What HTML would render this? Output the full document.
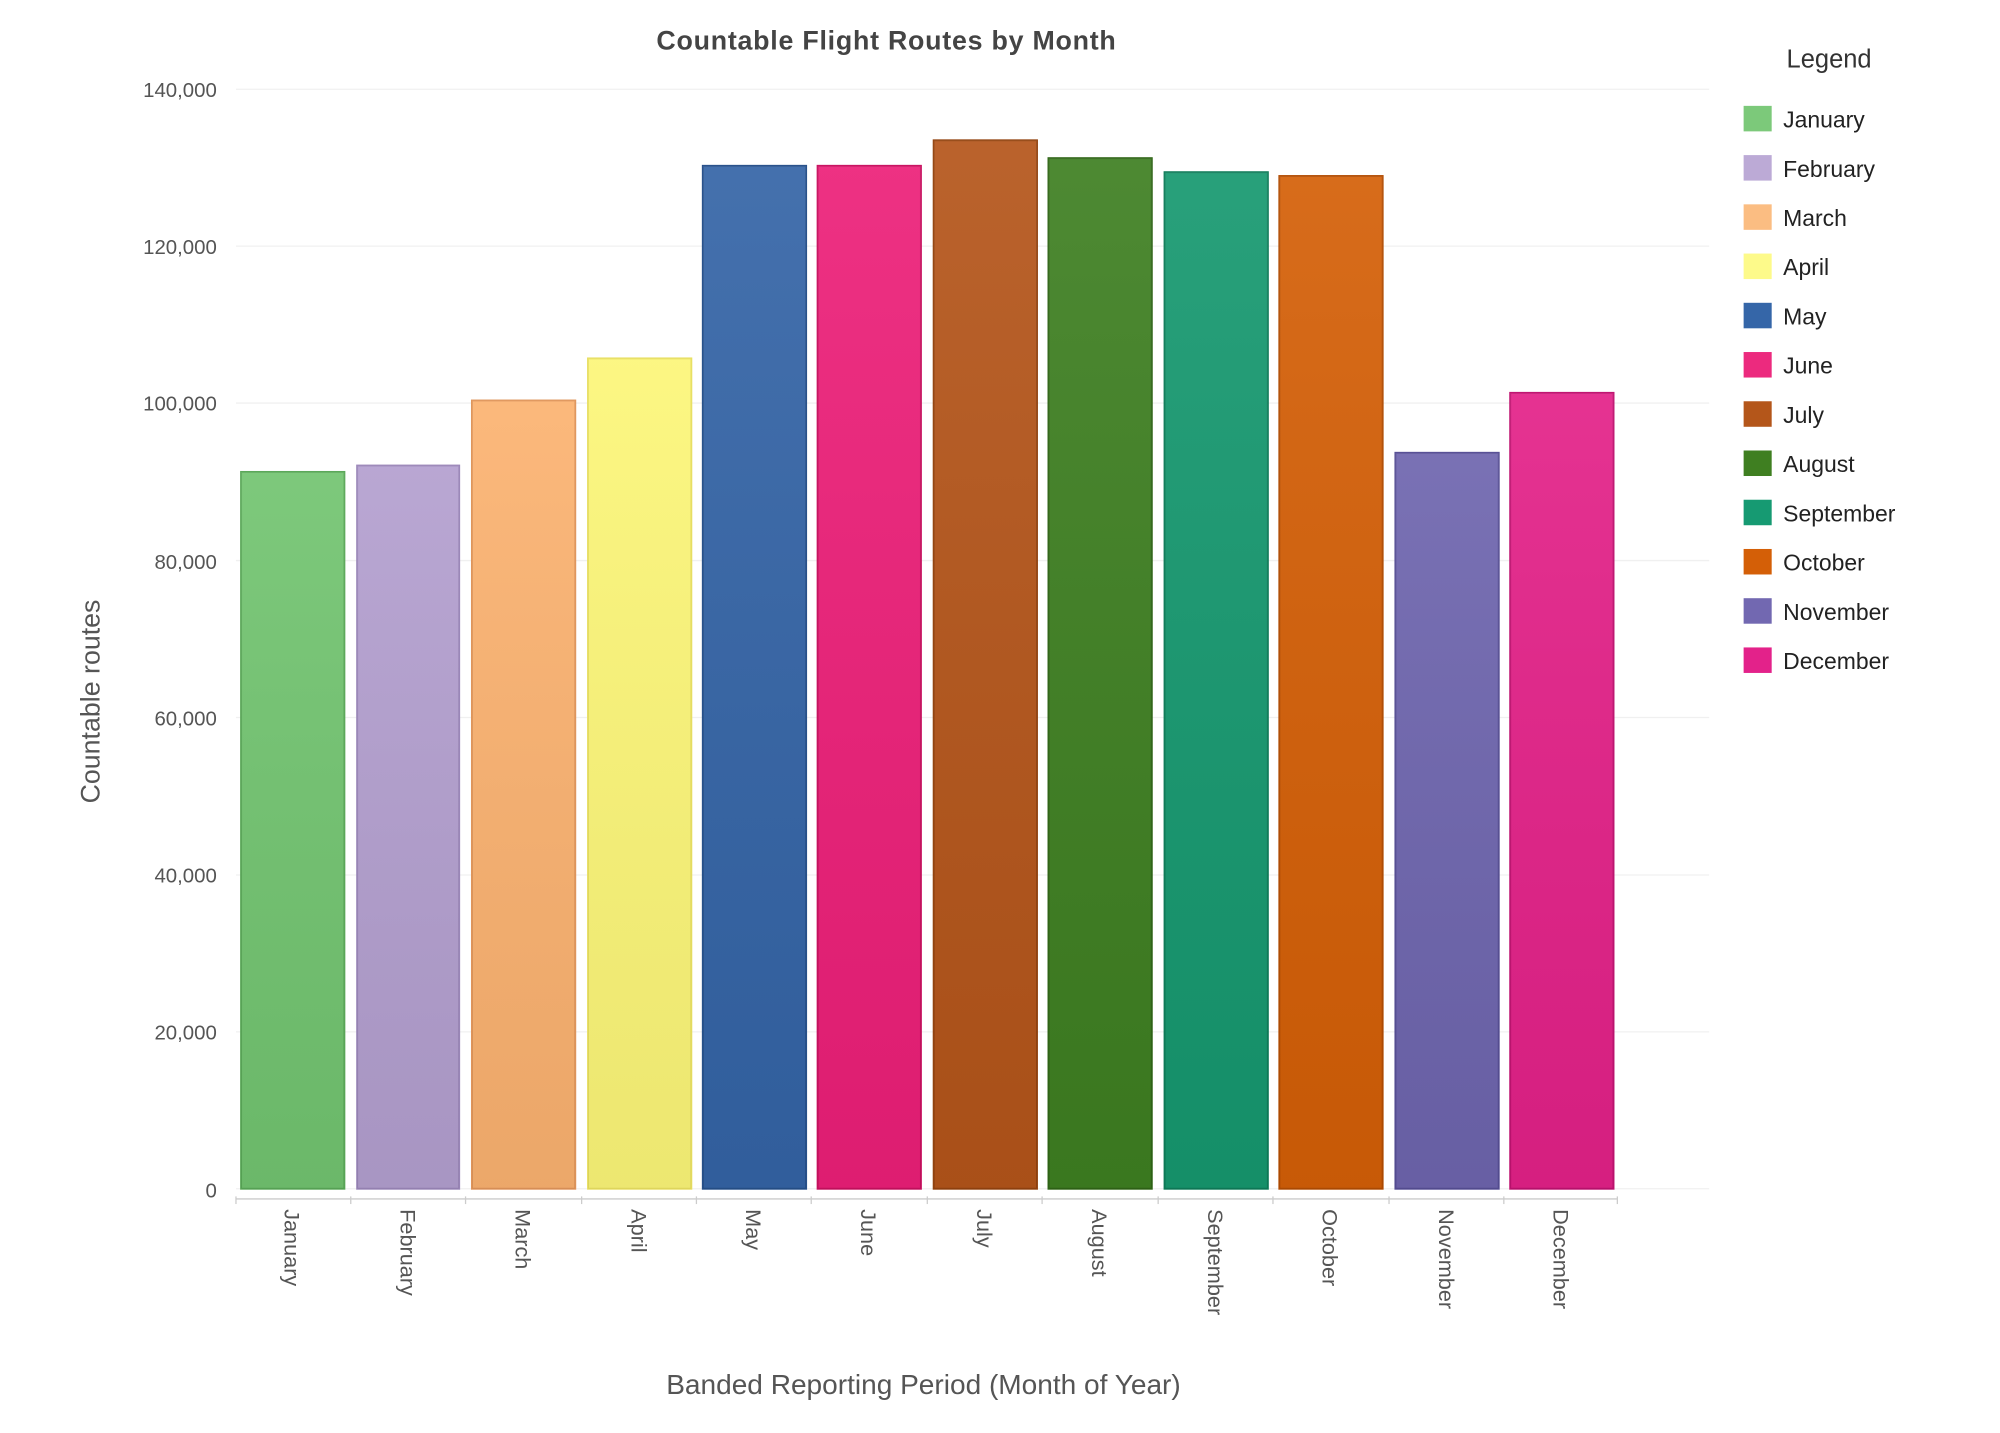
<!DOCTYPE html>
<html><head><meta charset="utf-8"><style>
html,body{margin:0;padding:0;background:#fff;}
svg{display:block;}
text{font-family:"Liberation Sans","DejaVu Sans",sans-serif;}
</style></head><body>
<svg width="2000" height="1433" viewBox="0 0 1568 1123.5" preserveAspectRatio="none" xmlns="http://www.w3.org/2000/svg">
<defs>
<linearGradient id="g" x1="0" y1="0" x2="0" y2="1"><stop offset="0" stop-color="#fff" stop-opacity="0.08"/><stop offset="1" stop-color="#000" stop-opacity="0.06"/></linearGradient>
</defs>
<text x="695" y="39" text-anchor="middle" font-size="21" font-weight="bold" fill="#444" letter-spacing="0.6">Countable Flight Routes by Month</text>
<g stroke="#f0f0f0" stroke-width="1">
<line x1="185" x2="1340" y1="70" y2="70"/><line x1="185" x2="1340" y1="193" y2="193"/><line x1="185" x2="1340" y1="316" y2="316"/><line x1="185" x2="1340" y1="439.5" y2="439.5"/><line x1="185" x2="1340" y1="562.5" y2="562.5"/><line x1="185" x2="1340" y1="686" y2="686"/><line x1="185" x2="1340" y1="809" y2="809"/><line x1="185" x2="1340" y1="932" y2="932"/>
</g>
<g font-size="16" fill="#555" text-anchor="end">
<text x="170" y="76">140,000</text><text x="170" y="199">120,000</text><text x="170" y="322">100,000</text><text x="170" y="446">80,000</text><text x="170" y="569">60,000</text><text x="170" y="692">40,000</text><text x="170" y="815">20,000</text><text x="170" y="939">0</text>
</g>
<g stroke-width="1.5">
<rect x="189" y="370" width="81" height="562" fill="#72c470" stroke="#5aa858"/>
<rect x="280" y="365" width="80" height="567" fill="#b39fcf" stroke="#9a86b8"/>
<rect x="370" y="314" width="81" height="618" fill="#fbb270" stroke="#e0955a"/>
<rect x="461" y="281" width="81" height="651" fill="#fcf678" stroke="#e8df60"/>
<rect x="551" y="130" width="81" height="802" fill="#3464a6" stroke="#26508a"/>
<rect x="641" y="130" width="81" height="802" fill="#ec1f78" stroke="#c8105f"/>
<rect x="732" y="110" width="81" height="822" fill="#b4551a" stroke="#93430f"/>
<rect x="822" y="124" width="81" height="808" fill="#3e7f21" stroke="#2f6516"/>
<rect x="913" y="135" width="81" height="797" fill="#16986f" stroke="#0e7c59"/>
<rect x="1003" y="138" width="81" height="794" fill="#d45f07" stroke="#b24c02"/>
<rect x="1094" y="355" width="81" height="577" fill="#6e65ae" stroke="#564e94"/>
<rect x="1184" y="308" width="81" height="624" fill="#e32188" stroke="#bf1270"/>
</g>
<g fill="url(#g)">
<rect x="189" y="370" width="81" height="562"/><rect x="280" y="365" width="80" height="567"/><rect x="370" y="314" width="81" height="618"/><rect x="461" y="281" width="81" height="651"/><rect x="551" y="130" width="81" height="802"/><rect x="641" y="130" width="81" height="802"/><rect x="732" y="110" width="81" height="822"/><rect x="822" y="124" width="81" height="808"/><rect x="913" y="135" width="81" height="797"/><rect x="1003" y="138" width="81" height="794"/><rect x="1094" y="355" width="81" height="577"/><rect x="1184" y="308" width="81" height="624"/>
</g>
<g stroke="#ccc"><line x1="185" x2="1268" y1="940" y2="940"/>
<line x1="185" x2="185" y1="938" y2="944"/><line x1="275" x2="275" y1="938" y2="944"/><line x1="365" x2="365" y1="938" y2="944"/><line x1="456" x2="456" y1="938" y2="944"/><line x1="546" x2="546" y1="938" y2="944"/><line x1="636" x2="636" y1="938" y2="944"/><line x1="727" x2="727" y1="938" y2="944"/><line x1="817" x2="817" y1="938" y2="944"/><line x1="908" x2="908" y1="938" y2="944"/><line x1="998" x2="998" y1="938" y2="944"/><line x1="1089" x2="1089" y1="938" y2="944"/><line x1="1179" x2="1179" y1="938" y2="944"/><line x1="1268" x2="1268" y1="938" y2="944"/></g>
<g font-size="17" fill="#555">
<text transform="translate(223,948) rotate(90)">January</text>
<text transform="translate(314,948) rotate(90)">February</text>
<text transform="translate(404,948) rotate(90)">March</text>
<text transform="translate(495,948) rotate(90)">April</text>
<text transform="translate(585,948) rotate(90)">May</text>
<text transform="translate(675,948) rotate(90)">June</text>
<text transform="translate(766,948) rotate(90)">July</text>
<text transform="translate(856,948) rotate(90)">August</text>
<text transform="translate(947,948) rotate(90)">September</text>
<text transform="translate(1037,948) rotate(90)">October</text>
<text transform="translate(1128,948) rotate(90)">November</text>
<text transform="translate(1218,948) rotate(90)">December</text>
</g>
<text x="724" y="1093" text-anchor="middle" font-size="22" fill="#555">Banded Reporting Period (Month of Year)</text>
<text transform="translate(78,550) rotate(-90)" text-anchor="middle" font-size="21" fill="#555">Countable routes</text>
<text x="1434" y="53" text-anchor="middle" font-size="20" fill="#333">Legend</text>
<g>
<rect x="1367" y="83" width="22" height="20" fill="#7cc97a"/>
<rect x="1367" y="121.6" width="22" height="20" fill="#bcaad6"/>
<rect x="1367" y="160.2" width="22" height="20" fill="#fbbd82"/>
<rect x="1367" y="198.8" width="22" height="20" fill="#fdfa8a"/>
<rect x="1367" y="237.4" width="22" height="20" fill="#3566a8"/>
<rect x="1367" y="276" width="22" height="20" fill="#ec2a7e"/>
<rect x="1367" y="314.6" width="22" height="20" fill="#b4561a"/>
<rect x="1367" y="353.2" width="22" height="20" fill="#3f7f21"/>
<rect x="1367" y="391.8" width="22" height="20" fill="#169a72"/>
<rect x="1367" y="430.4" width="22" height="20" fill="#d45f07"/>
<rect x="1367" y="469" width="22" height="20" fill="#7268b1"/>
<rect x="1367" y="507.6" width="22" height="20" fill="#e3228a"/>
</g>
<g font-size="18" fill="#222">
<text x="1398" y="100">January</text><text x="1398" y="138.6">February</text><text x="1398" y="177.2">March</text><text x="1398" y="215.8">April</text><text x="1398" y="254.4">May</text><text x="1398" y="293">June</text><text x="1398" y="331.6">July</text><text x="1398" y="370.2">August</text><text x="1398" y="408.8">September</text><text x="1398" y="447.4">October</text><text x="1398" y="486">November</text><text x="1398" y="524.6">December</text>
</g>
</svg>
</body></html>
